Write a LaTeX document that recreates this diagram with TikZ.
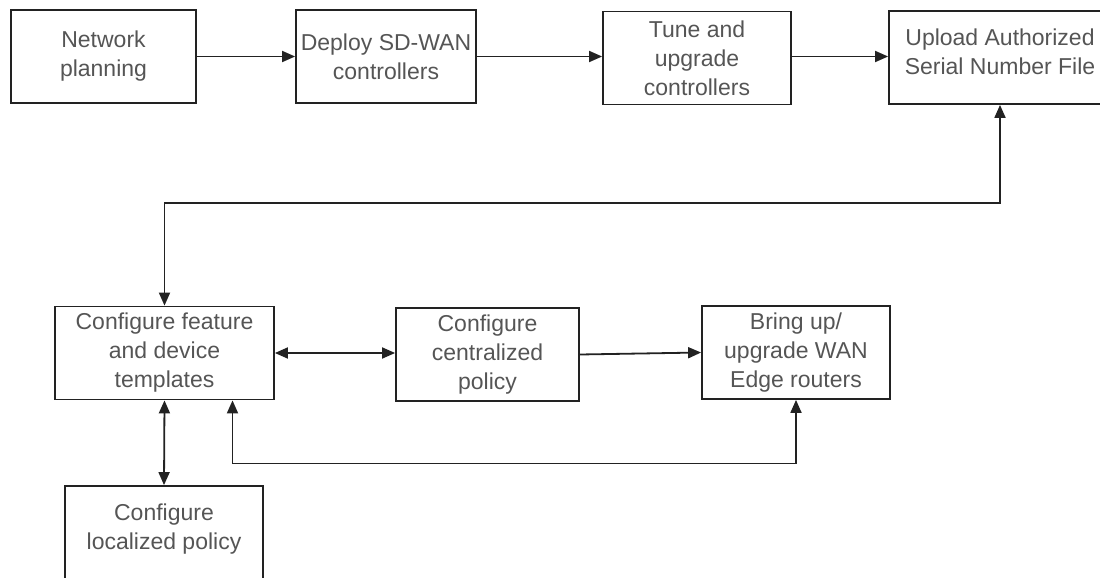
\documentclass[tikz,border=0pt]{standalone}
\usepackage{fontspec}
\setmainfont{Liberation Sans}
\usepackage{tikz}
\usetikzlibrary{arrows.meta}
\definecolor{textgray}{HTML}{555555}
\definecolor{linegray}{HTML}{222222}

\begin{document}
\begin{tikzpicture}[x=1pt, y=-1pt,
    stage/.style={
% The shape:
rectangle,
% The size:
      minimum width=#1,
      minimum height=93pt,
% The border:
      line width=1.8pt,
      draw=linegray,
      % The text:
align=center, text=textgray,
font=\fontsize{23}{29}\selectfont
    },
    flow/.style={
      line width=1.8pt, draw=linegray,
      -{Triangle[length=13pt,width=11pt]}
    },
    twoway/.style={
      flow, {Triangle[length=13pt,width=11pt]}-{Triangle[length=13pt,width=11pt]}
    }]
  \clip (0,0) rectangle (1100,578);
  \useasboundingbox (0,0) rectangle (1100,578);
  % top row
  \node [stage=185pt] (planning) at (103.5,56.5) {Network\\planning};
  \node [stage=180pt] (deploy) at (386,56.5) {Deploy SD-WAN\\controllers};
  \node [stage=188pt] (tune) at (697,58) {Tune and\\upgrade\\controllers};
  \node [stage=222pt] (upload) at (1000,57.5) {Upload Authorized\\Serial Number File\\[-17pt]\mbox{}};
  % middle row
  \node [stage=219pt] (templates) at (164.5,353) {Configure feature\\and device\\templates};
  \node [stage=183pt] (central) at (487.5,354.5) {Configure\\centralized\\policy};
  \node [stage=188pt] (edge) at (796,352.5) {Bring up/\\upgrade WAN\\Edge routers};
  % bottom
  \node [stage=198pt, minimum height=110pt] (local) at (164,541) {Configure\\localized policy\\~};
  \coordinate (rail) at (0,203);
  \draw [flow] (planning.east) -- (deploy.west);
  \draw [flow] (deploy.east) -- (tune.west |- deploy.east);
  \draw [flow] (tune.east |- planning.east) -- (upload.west |- planning.east);
  \draw [twoway] (templates.north) -- (templates.north |- rail) -| (upload.south);
  \draw [twoway] (templates.east) -- (templates.east -| central.west);
  \draw [flow] (central.east) -- (edge.west);
  \draw [twoway] (templates.south) -- (local.north);
  \draw [twoway] ([xshift=68pt]templates.south) -- ++(0,63) -| (edge.south);
\end{tikzpicture}
\end{document}
